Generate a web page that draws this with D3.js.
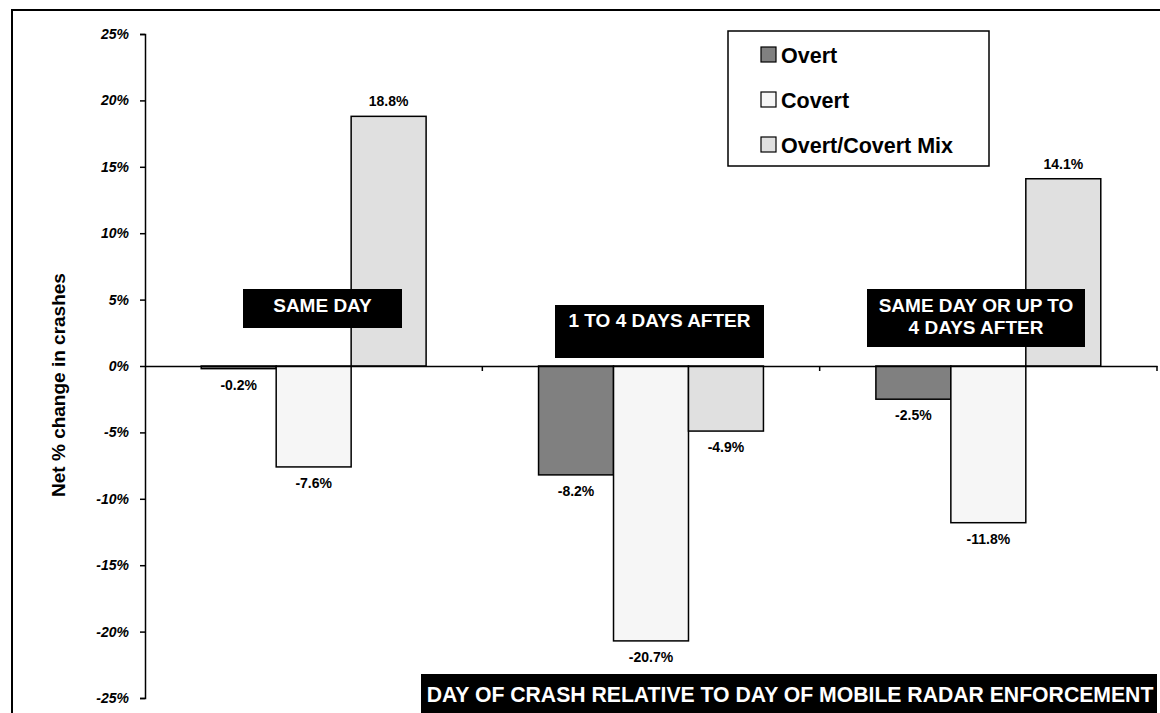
<!DOCTYPE html>
<html>
<head>
<meta charset="utf-8">
<script src="https://cdn.jsdelivr.net/npm/d3@7"></script>
<style>
  html, body { margin: 0; padding: 0; background: #fff; }
  svg { display: block; font-family: "Liberation Sans", Arial, sans-serif; }
</style>
</head>
<body>
<svg id="chart" width="1160" height="713"></svg>
<script>
// Periods relative to the day of mobile radar enforcement
const periods = ["SAME DAY", "1 TO 4 DAYS AFTER", "SAME DAY OR UP TO 4 DAYS AFTER"];
const periodLines = [["SAME DAY"], ["1 TO 4 DAYS AFTER", ""], ["SAME DAY OR UP TO", "4 DAYS AFTER"]];
const seriesNames = ["Overt", "Covert", "Overt/Covert Mix"];
const overt = [-0.2, -8.2, -2.5];
const covert = [-7.6, -20.7, -11.8];
const mix = [18.8, -4.9, 14.1];
const yTicks = [25, 20, 15, 10, 5, 0, -5, -10, -15, -20, -25];
const yTitle = "Net % change in crashes";
const xTitle = "DAY OF CRASH RELATIVE TO DAY OF MOBILE RADAR ENFORCEMENT";
const seriesFill = ["#808080", "#f6f6f6", "#e0e0e0"];

const seriesValues = [overt, covert, mix];
const svg = d3.select("#chart");
const pct = v => v.toFixed(1) + "%";

// outer frame
svg.append("rect")
  .attr("x", 12).attr("y", 10).attr("width", 1170).attr("height", 720)
  .attr("fill", "none").attr("stroke", "#000").attr("stroke-width", 2);

const plot = { left: 145, right: 1157, top: 34, bottom: 698 };

const y = d3.scaleLinear().domain([-25, 25]).range([plot.bottom, plot.top]);
const x0 = d3.scaleBand().domain(periods).range([plot.left, plot.right]);
const x1 = d3.scaleBand().domain(seriesNames).range([0, x0.bandwidth()])
  .paddingInner(0).paddingOuter(0.75);
const color = d3.scaleOrdinal().domain(seriesNames).range(seriesFill);

// y axis
const yAxis = svg.append("g")
  .attr("transform", `translate(${plot.left},0)`)
  .call(d3.axisLeft(y).tickValues(yTicks).tickSize(5).tickPadding(11)
    .tickFormat(d => d + "%"));
yAxis.select(".domain").attr("stroke", "#000").attr("stroke-width", 1.5);
yAxis.selectAll(".tick line").attr("stroke", "#000").attr("stroke-width", 1.5);
yAxis.selectAll(".tick text")
  .attr("font-family", "Liberation Sans, Arial, sans-serif")
  .attr("font-size", 14).attr("font-weight", "bold").attr("font-style", "italic")
  .attr("fill", "#000");

// y title
svg.append("text")
  .attr("transform", `translate(65,385) rotate(-90)`)
  .attr("text-anchor", "middle")
  .attr("font-size", 19).attr("font-weight", "bold")
  .text(yTitle);

// bars
const rows = periods.map((p, i) => seriesNames.map((s, j) => ({ period: p, series: s, value: seriesValues[j][i] })));
const groups = svg.append("g").selectAll("g").data(rows).join("g")
  .attr("transform", d => `translate(${x0(d[0].period)},0)`);

groups.selectAll("rect").data(d => d).join("rect")
  .attr("x", d => x1(d.series))
  .attr("width", x1.bandwidth())
  .attr("y", d => y(Math.max(0, d.value)))
  .attr("height", d => Math.abs(y(d.value) - y(0)))
  .attr("fill", d => color(d.series))
  .attr("stroke", "#000").attr("stroke-width", 1.5);

groups.selectAll("text.val").data(d => d).join("text")
  .attr("class", "val")
  .attr("x", d => x1(d.series) + x1.bandwidth() / 2)
  .attr("y", d => d.value >= 0 ? y(d.value) - 10 : y(d.value) + 21)
  .attr("text-anchor", "middle")
  .attr("font-size", 14).attr("font-weight", "bold")
  .text(d => pct(d.value));

// zero line with category ticks
const xAxis = svg.append("g")
  .attr("transform", `translate(0,${y(0)})`)
  .call(d3.axisBottom(x0).tickSize(0).tickFormat(""));
xAxis.select(".domain").attr("stroke", "#000").attr("stroke-width", 1.5);
svg.append("g").selectAll("line")
  .data(periods)
  .join("line")
  .attr("x1", d => x0(d) + x0.bandwidth()).attr("x2", d => x0(d) + x0.bandwidth())
  .attr("y1", y(0)).attr("y2", y(0) + 5)
  .attr("stroke", "#000").attr("stroke-width", 1.5);

// period label boxes
const boxes = [
  { x: 243, y: 289, w: 159, h: 39, base: 312 },
  { x: 555, y: 305, w: 209, h: 53, base: 327 },
  { x: 867, y: 289, w: 218, h: 58, base: 312 }
];
const labelG = svg.append("g");
boxes.forEach((b, i) => {
  labelG.append("rect").attr("x", b.x).attr("y", b.y).attr("width", b.w).attr("height", b.h).attr("fill", "#000");
  const t = labelG.append("text")
    .attr("text-anchor", "middle").attr("fill", "#fff")
    .attr("font-size", 19).attr("font-weight", "bold");
  periodLines[i].forEach((line, k) => {
    t.append("tspan").attr("x", b.x + b.w / 2).attr("y", b.base + k * 22).text(line);
  });
});

// x title box
svg.append("rect").attr("x", 421).attr("y", 674).attr("width", 736).attr("height", 45).attr("fill", "#000");
svg.append("text")
  .attr("x", 790).attr("y", 702)
  .attr("text-anchor", "middle").attr("fill", "#fff")
  .attr("font-size", 21.2).attr("font-weight", "bold")
  .text(xTitle);

// legend
const legend = svg.append("g");
legend.append("rect")
  .attr("x", 728).attr("y", 31).attr("width", 261).attr("height", 135)
  .attr("fill", "#fff").attr("stroke", "#000").attr("stroke-width", 1.5);
const items = legend.selectAll("g.item").data(seriesNames).join("g")
  .attr("class", "item")
  .attr("transform", (d, i) => `translate(761,${47 + i * 45})`);
items.append("rect")
  .attr("width", 15).attr("height", 15)
  .attr("fill", d => color(d)).attr("stroke", "#000").attr("stroke-width", 1.2);
items.append("text")
  .attr("x", 20).attr("y", 15.5)
  .attr("font-size", 21.5).attr("font-weight", "bold")
  .text(d => d);
</script>
</body>
</html>
